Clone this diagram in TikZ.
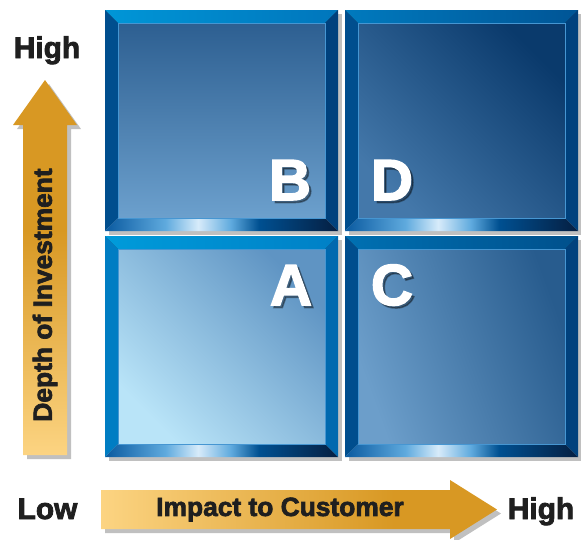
\documentclass[tikz,border=0pt]{standalone}
\usepackage{fontspec}
\setmainfont{Liberation Sans}
\newfontfamily\heavyfont{Liberation Sans}[BoldFeatures={FakeBold=2.6}]
\usetikzlibrary{calc}

% bevel and face colours
\definecolor{glowA}{RGB}{10,90,160}
\definecolor{glowB}{RGB}{95,170,222}
\definecolor{glowC}{RGB}{215,235,250}
\definecolor{glowD}{RGB}{0,80,145}
\definecolor{glowE}{RGB}{5,30,65}
\definecolor{topBl}{RGB}{0,150,215}
\definecolor{topBr}{RGB}{0,118,188}
\definecolor{topDl}{RGB}{0,122,190}
\definecolor{topDr}{RGB}{0,85,150}
\definecolor{topAl}{RGB}{0,155,218}
\definecolor{topAr}{RGB}{0,128,198}
\definecolor{topCl}{RGB}{0,112,178}
\definecolor{topCr}{RGB}{0,80,140}
\definecolor{sideDark}{RGB}{0,78,142}
\definecolor{sideDarker}{RGB}{0,65,125}
\definecolor{sideBright}{RGB}{0,125,195}
\definecolor{sideBrightR}{RGB}{0,105,175}
\definecolor{faceBt}{RGB}{45,95,145}
\definecolor{faceBb}{RGB}{108,160,205}
\definecolor{faceDt}{RGB}{10,58,108}
\definecolor{faceDb}{RGB}{68,120,170}
\definecolor{faceAt}{RGB}{95,148,195}
\definecolor{faceAb}{RGB}{185,228,248}
\definecolor{faceCt}{RGB}{40,92,142}
\definecolor{faceCb}{RGB}{108,158,202}
\definecolor{faceEdge}{RGB}{70,150,210}
\definecolor{goldLight}{RGB}{252,212,130}
\definecolor{goldDark}{RGB}{216,152,35}

\pgfdeclarehorizontalshading{bevelglow}{100bp}{color(0bp)=(glowA); color(25bp)=(glowA);
  color(38bp)=(glowB); color(45bp)=(glowC); color(52bp)=(glowB); color(58bp)=(glowD);
  color(75bp)=(glowE); color(100bp)=(glowE)}
\pgfdeclareverticalshading{goldup}{100bp}{color(0bp)=(goldLight); color(25bp)=(goldLight);
  color(55bp)=(goldDark); color(100bp)=(goldDark)}
\pgfdeclarehorizontalshading{goldright}{100bp}{color(0bp)=(goldLight); color(25bp)=(goldLight);
  color(62bp)=(goldDark); color(100bp)=(goldDark)}

\begin{document}
\begin{tikzpicture}[
    x=0.02cm, y=-0.02cm,
    endlabel/.style={font=\heavyfont\bfseries\fontsize{17}{17}\selectfont, text=black!88, anchor=base, inner sep=0},
    axislabel/.style={font=\heavyfont\bfseries\fontsize{15}{15}\selectfont, text=black!88, inner sep=0},
    letter/.style={font=\heavyfont\bfseries\fontsize{33}{33}\selectfont, text=white, anchor=base, inner sep=0},
    lettershadow/.style={letter, text=black, opacity=0.35},
    dropshade/.style={fill=black!45, opacity=0.55}
]
\useasboundingbox (0,0) rectangle (581,539);

% Tiles: x/y of top-left corner, face colours and angle, top bevel, side bevels
\foreach \x/\y/\ft/\fb/\ang/\tl/\tr/\lb/\rb in {
    105/10/faceBt/faceBb/0/topBl/topBr/sideDark/sideDarker,
    345/10/faceDt/faceDb/-45/topDl/topDr/sideDark/sideDarker,
    105/236/faceAt/faceAb/-45/topAl/topAr/sideBright/sideBrightR,
    345/236/faceCt/faceCb/-70/topCl/topCr/sideDark/sideDarker} {
    \fill[dropshade] (\x+4,\y+4) rectangle (\x+237,\y+225);
    \fill[left color=\tl, right color=\tr] (\x,\y) -- (\x+233,\y) -- (\x+220,\y+13) -- (\x+13,\y+13) -- cycle;
    \fill[\lb] (\x,\y) -- (\x+13,\y+13) -- (\x+13,\y+208) -- (\x,\y+221) -- cycle;
    \fill[\rb] (\x+233,\y) -- (\x+233,\y+221) -- (\x+220,\y+208) -- (\x+220,\y+13) -- cycle;
    \shade[shading=bevelglow] (\x,\y+221) -- (\x+233,\y+221) -- (\x+220,\y+208) -- (\x+13,\y+208) -- cycle;
    \shade[top color=\ft, bottom color=\fb, shading angle=\ang] (\x+13,\y+13) rectangle (\x+220,\y+208);
    \draw[faceEdge, line width=0.3pt] (\x+13,\y+13) rectangle (\x+220,\y+208);
}

% Quadrant letters
\node[lettershadow] (shB) at (292.5,202.5) {B};
\node[letter] (letB) at (290,200) {B};
\node[lettershadow] (shD) at (394.5,202.5) {D};
\node[letter] (letD) at (392,200) {D};
\node[lettershadow] (shA) at (293.5,307.5) {A};
\node[letter] (letA) at (291,305) {A};
\node[lettershadow] (shC) at (394.5,307.5) {C};
\node[letter] (letC) at (392,305) {C};

% Vertical axis arrow
\fill[dropshade] (27,459) -- (27,129) -- (17,129) -- (49,84) -- (81,129) -- (71,129) -- (71,459) -- cycle;
\shade[shading=goldup] (23,455) -- (23,125) -- (13,125) -- (45,80) -- (77,125) -- (67,125) -- (67,455) -- cycle;
\node[axislabel, rotate=90] (depth) at (45,295) {Depth of Investment};

% Horizontal axis arrow
\fill[dropshade] (105,494) -- (454,494) -- (454,484) -- (501,513.5) -- (454,543) -- (454,533) -- (105,533) -- cycle;
\shade[shading=goldright] (101,490) -- (450,490) -- (450,480) -- (497,509.5) -- (450,539) -- (450,529) -- (101,529) -- cycle;
\node[axislabel] (impact) at (280,509.5) {Impact to Customer};

% Axis ends
\node[endlabel] (highY) at (47,58) {High};
\node[endlabel] (lowX) at (47.5,519) {Low};
\node[endlabel] (highX) at (541,519) {High};

\end{tikzpicture}
\end{document}
